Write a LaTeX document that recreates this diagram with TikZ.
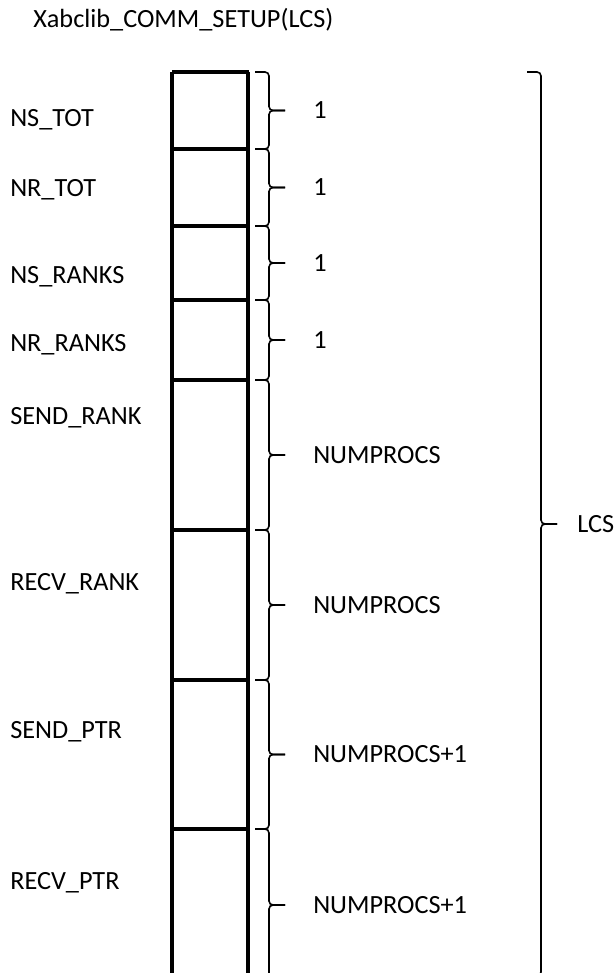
\documentclass[tikz,border=0pt]{standalone}
\usepackage{fontspec}
\setmainfont{Carlito}
\usetikzlibrary{calc}

\begin{document}
\begin{tikzpicture}[x=0.75pt,y=-0.75pt,
        wall/.style={line width=2.3pt},
        curly/.style={line width=1.2pt,rounded corners=3pt},
        lbl/.style={anchor=west,inner sep=0pt,font=\fontsize{19.7}{23}\selectfont}]
    \useasboundingbox (0,0) rectangle (615,973);
    \clip (0,0) rectangle (615,973);

    % Title
    \node[lbl] (title) at (33,20) {Xabclib\_COMM\_SETUP(LCS)};

    % Column walls and cell borders
    \draw[wall] (172,72) -- (172,980);
    \draw[wall] (248,72) -- (248,980);
    \foreach \y [count=\i from 0] in {72,149,226,300,380,530,680,829,981} {
        \coordinate (t\i) at (255,\y);
        \ifnum\i<8 \draw[wall] (172,\y) -- (249,\y); \fi
    }

    % Field names
    \foreach \y/\name [count=\i] in {120/NS\_TOT, 190/NR\_TOT, 277/NS\_RANKS, 345/NR\_RANKS,
            418/SEND\_RANK, 584/RECV\_RANK, 732/SEND\_PTR, 883/RECV\_PTR}
        \node[lbl] (f\i) at (10,\y) {\name};

    % Sizes, one brace per cell (two halves meeting at the tip)
    \foreach \i/\j/\size in {0/1/1, 1/2/1, 2/3/1, 3/4/1, 4/5/NUMPROCS, 5/6/NUMPROCS,
            6/7/NUMPROCS+1, 7/8/NUMPROCS+1} {
        \coordinate (m\j) at ($(t\i)!0.5!(t\j)+(14,0)$);
        \draw[curly] (t\i) -| (m\j) -- ++(16,0);
        \draw[curly] (t\j) -| (m\j) -- ++(16,0);
        \node[lbl] (s\j) at ($(m\j)+(44,0)$) {\size};
    }

    % Whole array
    \coordinate (lcstop) at (527,72);
    \coordinate (lcsbot) at (527,976);
    \coordinate (lcsmid) at (541,524);
    \draw[curly] (lcstop) -| (lcsmid) -- ++(16,0);
    \draw[curly] (lcsbot) -| (lcsmid) -- ++(16,0);
    \node[lbl] (lcs) at (577,524) {LCS};
\end{tikzpicture}
\end{document}
